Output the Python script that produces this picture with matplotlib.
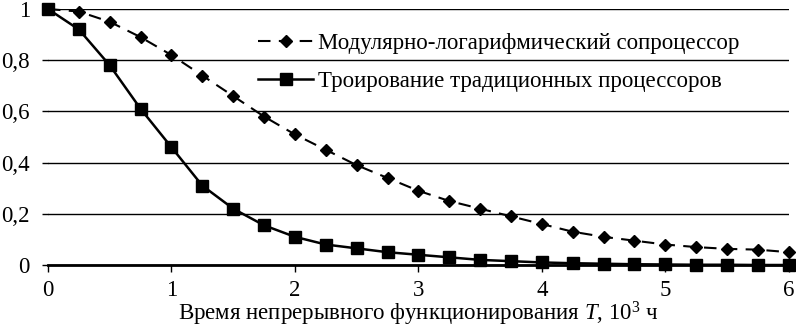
import matplotlib.pyplot as plt
from matplotlib.ticker import FuncFormatter
from matplotlib.font_manager import FontProperties

serif = "Liberation Serif"
plt.rcParams["mathtext.fontset"] = "custom"
plt.rcParams["mathtext.it"] = "Liberation Serif:italic"
plt.rcParams["mathtext.rm"] = "Liberation Serif"

# time, 10^3 h
t = [0, 0.25, 0.5, 0.75, 1.0, 1.25, 1.5, 1.75, 2.0, 2.25, 2.5, 2.75, 3.0,
     3.25, 3.5, 3.75, 4.0, 4.25, 4.5, 4.75, 5.0, 5.25, 5.5, 5.75, 6.0]
modular = [1.0, 0.99, 0.95, 0.89, 0.82, 0.74, 0.66, 0.58, 0.51, 0.45, 0.39,
           0.34, 0.29, 0.25, 0.22, 0.19, 0.16, 0.13, 0.11, 0.095, 0.08, 0.07,
           0.063, 0.06, 0.05]
triple = [1.0, 0.92, 0.78, 0.61, 0.46, 0.31, 0.22, 0.155, 0.11, 0.08, 0.065,
          0.05, 0.04, 0.03, 0.02, 0.015, 0.01, 0.007, 0.005, 0.003, 0.002,
          0.001, 0.001, 0.0, 0.0]
labels = ["Модулярно-логарифмический сопроцессор",
          "Троирование традиционных процессоров"]

fs = 16.5
fig = plt.figure(figsize=(7.96, 3.27), dpi=100)
ax = fig.add_axes([0.0603, 0.1896, 0.9306, 0.7829])

ax.plot(t, modular, "k--", marker="D", markersize=6.5, linewidth=1.5,
        dashes=(6, 4), label=labels[0], clip_on=False, zorder=3)
ax.plot(t, triple, "k-", marker="s", markersize=8, linewidth=1.8,
        label=labels[1], clip_on=False, zorder=4)

ax.set_xlim(0, 6)
ax.set_ylim(0, 1)
ax.set_yticks([0, 0.2, 0.4, 0.6, 0.8, 1.0])
ax.set_xticks(range(7))
ax.yaxis.set_major_formatter(FuncFormatter(lambda v, p: ("%g" % round(v, 1)).replace(".", ",")))
ax.grid(axis="y", color="black", linewidth=1)
ax.set_axisbelow(True)
for s in ["top", "right", "left"]:
    ax.spines[s].set_visible(False)
ax.spines["bottom"].set_linewidth(2)
ax.tick_params(axis="y", length=4, width=1, labelsize=fs, pad=9)
ax.tick_params(axis="x", length=5, width=1, labelsize=fs, pad=6)
for lab in ax.get_xticklabels() + ax.get_yticklabels():
    lab.set_fontfamily(serif)

ax.set_xlabel(r"Время непрерывного функционирования $T$, 10$^3$ ч",
              fontsize=fs, fontfamily=serif, labelpad=-1)

ax.legend(loc="upper left", bbox_to_anchor=(249 / 796, 1 - 24 / 327),
          bbox_transform=fig.transFigure, borderaxespad=0, frameon=False,
          prop=FontProperties(family=serif, size=fs), handlelength=2.4,
          handletextpad=0.2, labelspacing=0.75)

fig.savefig("out.png")
